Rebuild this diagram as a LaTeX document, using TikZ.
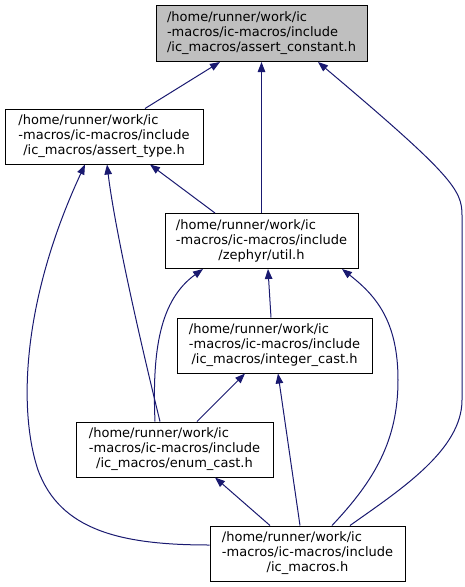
\documentclass[tikz,border=0pt]{standalone}
\usepackage{fontspec}
\setmainfont{DejaVu Sans}
\usetikzlibrary{arrows.meta}
\definecolor{edgeblue}{RGB}{25,25,112}
\definecolor{rootgrey}{RGB}{191,191,191}
\newcommand\dlabel[1]{\begin{tabular}{@{}l@{}}/home/runner/work/ic\\-macros/ic-macros/include\\\multicolumn{1}{@{}c@{}}{#1}\end{tabular}}
\begin{document}
\begin{tikzpicture}[x=1pt,y=-1pt,
  file/.style={draw=black, line width=1pt, fill=white, inner sep=0pt,
    minimum height=55pt, font=\fontsize{13}{15}\selectfont},
  dep/.style={draw=edgeblue, line width=1pt, -{Triangle[length=10pt,width=7.5pt]}}]
\useasboundingbox (0,0) rectangle (465,587);
\node[file, fill=rootgrey, minimum width=211pt, minimum height=56pt] (A) at (261.5,33.5) {\dlabel{/ic\_macros/assert\_constant.h}};
\node[file, minimum width=198pt] (B) at (104,136.5) {\dlabel{/ic\_macros/assert\_type.h}};
\node[file, minimum width=193pt] (C) at (261.5,241) {\dlabel{/zephyr/util.h}};
\node[file, minimum width=195pt] (D) at (274.5,345.5) {\dlabel{/ic\_macros/integer\_cast.h}};
\node[file, minimum width=197pt] (E) at (174.5,449.5) {\dlabel{/ic\_macros/enum\_cast.h}};
\node[file, minimum width=195pt] (F) at (307.5,553.5) {\dlabel{/ic\_macros.h}};
% edges
\draw[dep] ([xshift=41pt]B.north) -- ([xshift=-41.5pt]A.south);
\draw[dep] (C.north) -- (A.south);
\draw[dep] ([xshift=42.5pt]F.north) .. controls (400,490) and (462,450) .. (462,400) -- (462,215) .. controls (462,190) and (452,175) .. ([xshift=56.5pt]A.south);
\draw[dep] ([xshift=-46.5pt]C.north) -- ([xshift=46pt]B.south);
\draw[dep] ([xshift=-14.5pt]E.north) .. controls (140,340) and (115,230) .. ([xshift=3pt]B.south);
\draw[dep] ([yshift=8.5pt]F.west) .. controls (120,545) and (60,530) .. (38,470) .. controls (18,410) and (22,300) .. ([xshift=-19pt]B.south);
\draw[dep] ([xshift=-3.5pt]D.north) -- ([xshift=6.5pt]C.south);
\draw[dep] ([xshift=-19.5pt]E.north) .. controls (152,350) and (160,300) .. ([xshift=-58.5pt]C.south);
\draw[dep] ([xshift=24.5pt]F.north) .. controls (375,480) and (398,440) .. (398,380) .. controls (398,320) and (375,295) .. ([xshift=80.5pt]C.south);
\draw[dep] ([xshift=22.5pt]E.north) -- ([xshift=-29.5pt]D.south);
\draw[dep] ([xshift=-7.5pt]F.north) -- ([xshift=3.5pt]D.south);
\draw[dep] ([xshift=-37.5pt]F.north) -- ([xshift=40.5pt]E.south);
\end{tikzpicture}
\end{document}
